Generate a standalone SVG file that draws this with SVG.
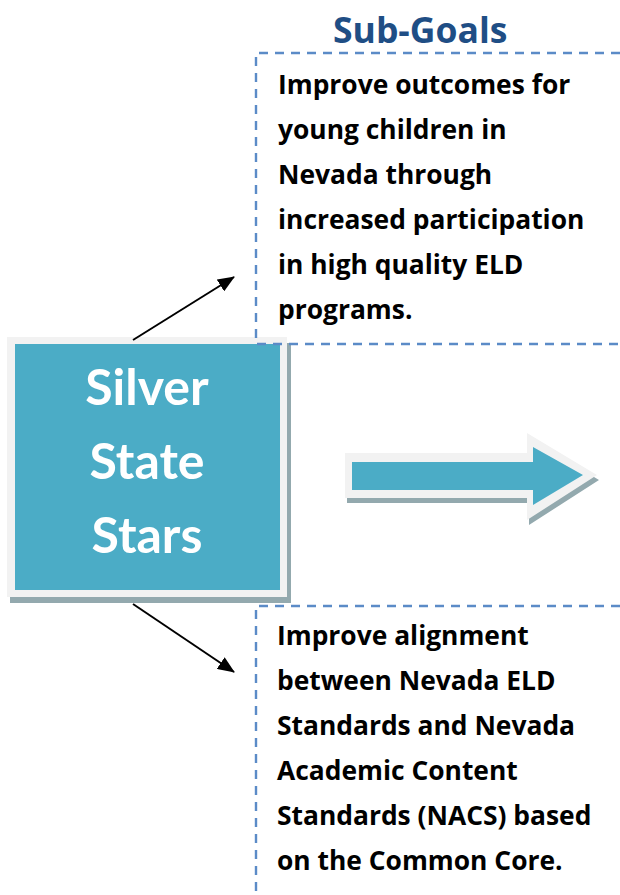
<svg xmlns="http://www.w3.org/2000/svg" width="620" height="895" viewBox="0 0 620 895">
<defs>
<style>
.body{font-family:"Open Sans",Lato,"Liberation Sans",sans-serif;font-weight:bold;font-size:26.4px;fill:#000}
.title{font-family:"Open Sans",Lato,"Liberation Sans",sans-serif;font-weight:bold;font-size:35.5px;fill:#1f4e85}
.big{font-family:Lato,"Open Sans","Liberation Sans",sans-serif;font-weight:bold;font-size:50px;fill:#fff;text-anchor:middle}
.dash{fill:none;stroke:#5b8bc7;stroke-width:2.4;stroke-dasharray:9 7}
.conn{stroke:#000;stroke-width:2;fill:none}
</style>
<marker id="ah" markerUnits="userSpaceOnUse" markerWidth="18" markerHeight="14" refX="16" refY="7" orient="auto">
<path d="M0,0 L17,7 L0,14 z" fill="#000"/>
</marker>
</defs>
<rect width="620" height="895" fill="#fff"/>
<text class="title" x="333" y="43">Sub-Goals</text>
<g id="main">
<rect x="10" y="343" width="281" height="260" fill="#93a9ae"/>
<rect x="7" y="337" width="280" height="260" fill="#f2f2f2"/>
<rect x="15" y="344" width="265" height="246" fill="#4bacc6"/>
<text class="big" x="147" y="405">Silver</text>
<text class="big" x="147" y="479">State</text>
<text class="big" x="147" y="553">Stars</text>
</g>
<g id="goal1">
<path class="dash" d="M620,53 L256,53 L256,344 L620,344"/>
<text class="body" x="278" y="94">Improve outcomes for</text>
<text class="body" x="278" y="139">young children in</text>
<text class="body" x="278" y="184">Nevada through</text>
<text class="body" x="278" y="229">increased participation</text>
<text class="body" x="278" y="274">in high quality ELD</text>
<text class="body" x="278" y="319">programs.</text>
</g>
<g id="goal2">
<path class="dash" d="M620,606 L256,606 L256,895"/>
<text class="body" x="277" y="645">Improve alignment</text>
<text class="body" x="277" y="690">between Nevada ELD</text>
<text class="body" x="277" y="735">Standards and Nevada</text>
<text class="body" x="277" y="780">Academic Content</text>
<text class="body" x="277" y="825">Standards (NACS) based</text>
<text class="body" x="277" y="870">on the Common Core.</text>
</g>
<g id="bigarrow">
<polygon points="347,458 529,458 529,438 599,480 529,525 529,503 347,503" fill="#93a9ae"/>
<polygon points="345,453 527,453 527,433 597,475 527,520 527,498 345,498" fill="#f2f2f2"/>
<polygon points="352,462 533,462 533,447 583,475 533,505 533,490 352,490" fill="#4bacc6"/>
</g>
<g id="connectors">
<line class="conn" x1="133" y1="340" x2="234" y2="277" marker-end="url(#ah)"/>
<line class="conn" x1="133" y1="604" x2="234" y2="672" marker-end="url(#ah)"/>
</g>
</svg>
